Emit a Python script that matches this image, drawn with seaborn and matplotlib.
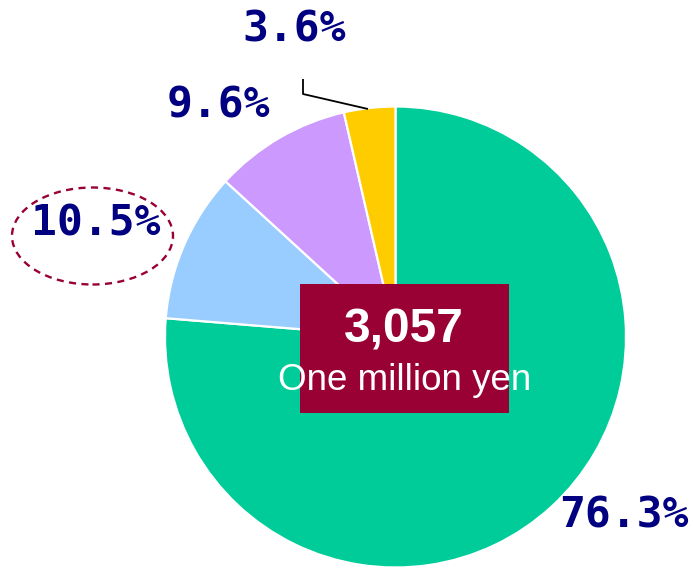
import matplotlib
matplotlib.use("Agg")
import matplotlib.pyplot as plt
from matplotlib.patches import Rectangle, Ellipse
import seaborn as sns

# ---- data ----
categories = ["A", "B", "C", "D"]
shares = [76.3, 10.5, 9.6, 3.6]
colors = ["#00CC99", "#99CCFF", "#CC99FF", "#FFCC00"]
total_value = "3,057"
total_unit = "One million yen"

sns.set_style("white")

W, H = 693, 568
fig = plt.figure(figsize=(W / 100, H / 100), dpi=100)
ax = fig.add_axes([0, 0, 1, 1])
ax.set_xlim(0, W)
ax.set_ylim(0, H)
ax.set_axis_off()

def Y(y):
    return H - y

cx, cy, r = 395.5, 337, 230.5
ax.pie(shares, colors=colors, startangle=90, counterclock=False,
       center=(cx, Y(cy)), radius=r, frame=True,
       wedgeprops=dict(edgecolor="white", linewidth=1.6))
ax.set_xlim(0, W)
ax.set_ylim(0, H)
ax.set_axis_off()
ax.set_aspect("auto")

label_font = dict(family="DejaVu Sans Mono", weight="bold", size=31,
                  color="#000080", ha="center", va="baseline")
label_pos = [(624, 527), (96, 235), (218, 117), (294, 41)]
for v, (x, y) in zip(shares, label_pos):
    ax.text(x, Y(y), f"{v}%", **label_font)

# leader line for smallest slice
ax.plot([303, 303, 368], [Y(79), Y(94), Y(109)], color="black", lw=1.3,
        solid_capstyle="butt")

# dashed ellipse around 10.5%
ax.add_patch(Ellipse((92.5, Y(236)), 161, 97, fill=False,
                     edgecolor="#990033", lw=1.7, linestyle=(0, (3, 2.3))))

# central box
ax.add_patch(Rectangle((300, Y(413)), 209, 129, facecolor="#990033",
                       edgecolor="none", zorder=5))
ax.text(404, Y(343), total_value, family="Liberation Sans", weight="bold",
        size=34.5, color="white", ha="center", va="baseline", zorder=6)
ax.text(404.5, Y(390), total_unit, family="Liberation Sans", size=26.5,
        color="white", ha="center", va="baseline", zorder=6)

fig.savefig("out.png", dpi=100)
